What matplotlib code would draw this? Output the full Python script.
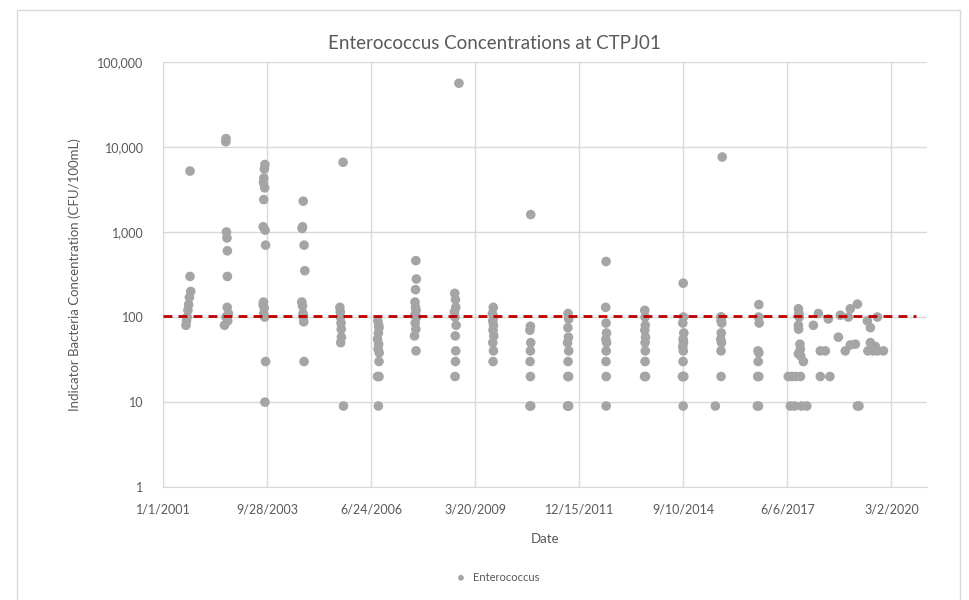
import pandas as pd
import matplotlib.pyplot as plt
from matplotlib.patches import Rectangle
from matplotlib.ticker import FixedLocator, NullLocator

plt.rcParams["font.family"] = ["Lato", "DejaVu Sans"]

TEXT = "#595959"
GRID = "#d9d9d9"
DOT = "#a5a5a5"
LIMIT = "#c00000"

# sample dates and Enterococcus results (CFU/100mL), one season per line
sample_dates = [
    "2001-09-18", "2001-09-18", "2001-09-25", "2001-09-12", "2001-09-05", "2001-08-29", "2001-08-22", "2001-08-15", "2001-08-10",
    "2002-08-30", "2002-08-28", "2002-09-03", "2002-09-08", "2002-09-12", "2002-09-12", "2002-09-10", "2002-09-22", "2002-08-30", "2002-09-15", "2002-08-15",
    "2003-09-08", "2003-09-02", "2003-08-28", "2003-08-25", "2003-09-05", "2003-08-28", "2003-08-22", "2003-09-10", "2003-09-14", "2003-08-25", "2003-08-22", "2003-09-01", "2003-08-28", "2003-09-05", "2003-09-14", "2003-09-08",
    "2004-09-10", "2004-09-03", "2004-08-30", "2004-09-18", "2004-09-25", "2004-08-27", "2004-09-03", "2004-09-08", "2004-09-12", "2004-09-15", "2004-09-18",
    "2005-09-28", "2005-08-28", "2005-09-01", "2005-09-03", "2005-09-08", "2005-09-10", "2005-09-12", "2005-09-05", "2005-10-02",
    "2006-08-28", "2006-09-05", "2006-09-08", "2006-09-02", "2006-08-25", "2006-09-05", "2006-08-30", "2006-09-10", "2006-09-08", "2006-08-25", "2006-09-08", "2006-09-02",
    "2007-08-28", "2007-09-02", "2007-08-25", "2007-08-20", "2007-08-25", "2007-08-30", "2007-08-18", "2007-09-04", "2007-08-22", "2007-08-28", "2007-08-15", "2007-08-30",
    "2008-10-15", "2008-09-05", "2008-09-12", "2008-09-15", "2008-09-02", "2008-09-08", "2008-09-18", "2008-09-10", "2008-09-15", "2008-09-12", "2008-09-08",
    "2009-09-10", "2009-09-02", "2009-09-15", "2009-09-05", "2009-09-12", "2009-09-08", "2009-09-15", "2009-09-05", "2009-09-12", "2009-09-08",
    "2010-09-05", "2010-09-02", "2010-08-28", "2010-09-05", "2010-09-02", "2010-08-30", "2010-09-02", "2010-08-28", "2010-09-05",
    "2011-08-30", "2011-09-05", "2011-08-28", "2011-09-02", "2011-08-25", "2011-09-05", "2011-08-30", "2011-08-28", "2011-09-04", "2011-08-25", "2011-08-30", "2011-09-04",
    "2012-08-29", "2012-08-25", "2012-08-29", "2012-09-02", "2012-08-27", "2012-09-03", "2012-08-30", "2012-08-28", "2012-08-30", "2012-08-30",
    "2013-09-05", "2013-09-08", "2013-09-10", "2013-09-05", "2013-09-12", "2013-09-08", "2013-09-10", "2013-09-08", "2013-09-03", "2013-09-12",
    "2014-09-09", "2014-09-12", "2014-09-05", "2014-09-15", "2014-09-08", "2014-09-12", "2014-09-05", "2014-09-10", "2014-09-08", "2014-09-02", "2014-09-09", "2014-09-15", "2014-09-09",
    "2015-09-19", "2015-09-05", "2015-09-12", "2015-09-08", "2015-09-15", "2015-09-10", "2015-09-05", "2015-09-12", "2015-09-08", "2015-09-08", "2015-07-15",
    "2016-09-05", "2016-09-02", "2016-09-08", "2016-08-28", "2016-09-05", "2016-08-30", "2016-08-25", "2016-09-05", "2016-08-22", "2016-09-02",
    "2017-09-20", "2017-09-25", "2017-09-28", "2017-09-20", "2017-09-22", "2017-10-05", "2017-10-09", "2017-09-20", "2017-10-12", "2017-11-07", "2017-06-15", "2017-07-20", "2017-08-25", "2017-10-10", "2017-07-05", "2017-08-15", "2017-10-20", "2017-12-10",
    "2018-02-11", "2018-03-31", "2018-04-19", "2018-04-19", "2018-06-06", "2018-07-05", "2018-07-20", "2018-10-09", "2018-10-28", "2018-12-15",
    "2019-01-13", "2019-02-01", "2019-02-01", "2019-03-22", "2019-04-10", "2019-04-10", "2019-04-25", "2019-07-15", "2019-07-20", "2019-08-13", "2019-08-13", "2019-09-10", "2019-09-30", "2019-10-19", "2019-10-19", "2019-12-16",
]
enterococcus = [
    5200, 300, 200, 170, 140, 120, 100, 90, 80,
    12500, 11500, 1000, 850, 600, 300, 130, 110, 100, 90, 80,
    6200, 5500, 4300, 3800, 3300, 2400, 1150, 1050, 700, 150, 140, 128, 110, 100, 30, 10,
    2300, 1150, 1100, 700, 350, 150, 135, 110, 100, 88, 30,
    6600, 130, 115, 100, 85, 72, 58, 50, 9,
    90, 80, 75, 65, 55, 48, 42, 38, 30, 20, 20, 9,
    460, 280, 210, 150, 130, 120, 105, 100, 85, 72, 60, 40,
    56000, 190, 160, 130, 115, 100, 80, 60, 40, 30, 20,
    130, 110, 100, 90, 80, 70, 60, 50, 40, 30,
    1600, 78, 70, 50, 40, 30, 20, 9, 9,
    110, 95, 75, 58, 50, 40, 30, 20, 20, 9, 9, 9,
    450, 130, 85, 65, 55, 50, 40, 30, 20, 9,
    120, 100, 80, 70, 58, 50, 40, 30, 20, 20,
    250, 100, 85, 65, 55, 50, 45, 40, 30, 20, 20, 20, 9,
    7600, 100, 100, 90, 85, 65, 55, 50, 40, 20, 9,
    140, 100, 85, 40, 38, 30, 20, 20, 9, 9,
    125, 110, 100, 80, 72, 48, 42, 37, 35, 30, 20, 20, 20, 20, 9, 9, 9, 9,
    80, 110, 40, 20, 40, 95, 20, 58, 105, 40,
    100, 125, 47, 48, 142, 9, 9, 90, 40, 75, 50, 40, 45, 100, 40, 40,
]

criterion = 104  # single-sample limit, CFU/100mL
y_ticks = [1, 10, 100, 1000, 10000, 100000]
x_start = "2001-01-01"
x_end = "2021-02-10"

df = pd.DataFrame({"date": pd.to_datetime(sample_dates), "value": enterococcus})

fig = plt.figure(figsize=(9.7, 6.0), dpi=100)
ax = fig.add_axes([0.168, 0.188, 0.788, 0.709])

ax.scatter(df["date"], df["value"], s=48, color=DOT, edgecolors="none",
           zorder=3, label="Enterococcus")
ax.axhline(criterion, xmax=0.985, color=LIMIT, linewidth=2.0,
           linestyle=(0, (3.2, 2.2)), zorder=4)

ax.set_yscale("log")
ax.set_ylim(1, 100000)
ax.yaxis.set_major_locator(FixedLocator(y_ticks))
ax.yaxis.set_minor_locator(NullLocator())
ax.set_yticklabels([f"{v:,}" for v in y_ticks])

x_ticks = pd.date_range(x_start, periods=8, freq="1000D")
ax.set_xlim(pd.Timestamp(x_start), pd.Timestamp(x_end))
ax.set_xticks(x_ticks)
ax.set_xticklabels([f"{d.month}/{d.day}/{d.year}" for d in x_ticks])

ax.grid(True, color=GRID, linewidth=1.0, zorder=0)
ax.set_axisbelow(True)
for side in ["top", "right"]:
    ax.spines[side].set_visible(False)
for side in ["left", "bottom"]:
    ax.spines[side].set_color(GRID)
ax.tick_params(length=0, colors=TEXT, labelsize=9, pad=12)
ax.tick_params(axis="y", pad=14)

fig.text(0.51, 0.928, "Enterococcus Concentrations at CTPJ01", color=TEXT,
         fontsize=13.5, ha="center", va="center")
ax.set_xlabel("Date", color=TEXT, fontsize=9.5, labelpad=12)
ax.set_ylabel("Indicator Bacteria Concentration (CFU/100mL)", color=TEXT,
              fontsize=9.5, labelpad=12)

fig.legend(loc="center", bbox_to_anchor=(0.51, 0.038), frameon=False,
           fontsize=8, labelcolor=TEXT, handletextpad=0.1, markerscale=0.6)

fig.patches.append(Rectangle((0.018, -0.01), 0.972, 0.993, transform=fig.transFigure,
                             fill=False, edgecolor=GRID, linewidth=1.0))

fig.savefig("out.png", dpi=100)
